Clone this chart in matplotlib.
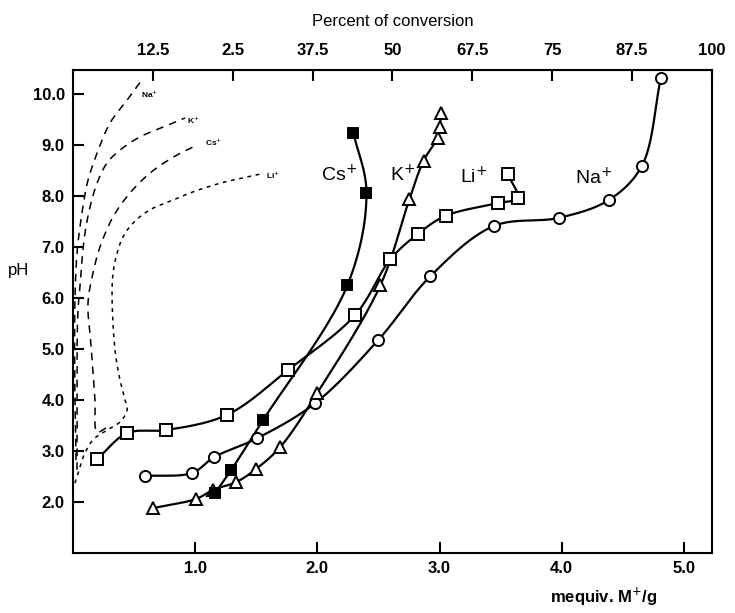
import numpy as np
import matplotlib
matplotlib.use("Agg")
import matplotlib.pyplot as plt

plt.rcParams['font.family'] = ['Liberation Sans', 'DejaVu Sans']

# ---------------- data ----------------
li_x = [0.197, 0.443, 0.762, 1.262, 1.762, 2.311, 2.598, 2.820, 3.049, 3.475, 3.639, 3.557]
li_y = [2.84, 3.35, 3.41, 3.71, 4.59, 5.67, 6.76, 7.25, 7.61, 7.86, 7.96, 8.43]

na_x = [0.59, 0.975, 1.156, 1.508, 1.984, 2.50, 2.926, 3.443, 3.975, 4.385, 4.656, 4.811]
na_y = [2.51, 2.57, 2.88, 3.25, 3.94, 5.18, 6.43, 7.41, 7.57, 7.92, 8.59, 10.31]

k_x = [0.656, 1.008, 1.148, 1.336, 1.50, 1.697, 2.00, 2.516, 2.754, 2.869, 2.984, 3.00, 3.016]
k_y = [1.88, 2.06, 2.24, 2.39, 2.65, 3.08, 4.14, 6.25, 7.94, 8.69, 9.14, 9.35, 9.63]

cs_x = [1.164, 1.295, 1.557, 2.246, 2.402, 2.295]
cs_y = [2.18, 2.63, 3.61, 6.25, 8.06, 9.24]

# dashed reference curves (no markers)
da_x = [0.025, 0.016, 0.016, 0.033, 0.057, 0.090, 0.123, 0.197, 0.303, 0.443, 0.574]
da_y = [2.82, 4.00, 5.96, 6.88, 7.39, 7.92, 8.31, 8.84, 9.43, 9.88, 10.31]

db_x = [0.033, 0.033, 0.033, 0.041, 0.057, 0.074, 0.098, 0.139, 0.197, 0.279, 0.385, 0.549, 0.738, 0.918]
db_y = [2.63, 3.60, 4.98, 5.76, 6.22, 6.75, 7.27, 7.78, 8.25, 8.65, 8.90, 9.16, 9.35, 9.53]

dc_x = [0.270, 0.197, 0.180, 0.150, 0.123, 0.164, 0.221, 0.328, 0.467, 0.631, 0.820, 1.016]
dc_y = [3.45, 3.37, 4.00, 5.00, 5.90, 6.49, 7.00, 7.59, 8.06, 8.45, 8.76, 9.00]

dd_x = [0.016, 0.057, 0.098, 0.164, 0.279, 0.385, 0.443, 0.426, 0.385, 0.344, 0.320, 0.328,
        0.361, 0.410, 0.492, 0.631, 0.820, 0.959, 1.205, 1.533]
dd_y = [2.37, 2.69, 2.96, 3.22, 3.41, 3.57, 3.80, 4.00, 4.39, 4.98, 6.02, 6.49,
        6.88, 7.20, 7.47, 7.73, 7.92, 8.06, 8.25, 8.43]

x_ticks = [1.0, 2.0, 3.0, 4.0, 5.0]
y_ticks = [2.0, 3.0, 4.0, 5.0, 6.0, 7.0, 8.0, 9.0, 10.0]
top_pct = [12.5, 25, 37.5, 50, 62.5, 75, 87.5, 100]
top_labels = ["12.5", "2.5", "37.5", "50", "67.5", "75", "87.5", "100"]

XMAX = 5.23
YMIN, YMAX = 1.0, 10.47


def smooth(xs, ys, n=25, sx=122.0, sy=51.0):
    """Centripetal Catmull-Rom through the data points (in screen-like units)."""
    P = np.column_stack([np.asarray(xs) * sx, np.asarray(ys) * sy])
    if len(P) < 3:
        return np.asarray(xs), np.asarray(ys)
    P = np.vstack([2 * P[0] - P[1], P, 2 * P[-1] - P[-2]])
    out = []
    for i in range(1, len(P) - 2):
        p0, p1, p2, p3 = P[i - 1], P[i], P[i + 1], P[i + 2]
        t0 = 0.0
        t1 = t0 + max(np.linalg.norm(p1 - p0), 1e-6) ** 0.5
        t2 = t1 + max(np.linalg.norm(p2 - p1), 1e-6) ** 0.5
        t3 = t2 + max(np.linalg.norm(p3 - p2), 1e-6) ** 0.5
        t = np.linspace(t1, t2, n)[:, None]
        A1 = (t1 - t) / (t1 - t0) * p0 + (t - t0) / (t1 - t0) * p1
        A2 = (t2 - t) / (t2 - t1) * p1 + (t - t1) / (t2 - t1) * p2
        A3 = (t3 - t) / (t3 - t2) * p2 + (t - t2) / (t3 - t2) * p3
        B1 = (t2 - t) / (t2 - t0) * A1 + (t - t0) / (t2 - t0) * A2
        B2 = (t3 - t) / (t3 - t1) * A2 + (t - t1) / (t3 - t1) * A3
        C = (t2 - t) / (t2 - t1) * B1 + (t - t1) / (t2 - t1) * B2
        out.append(C if i == 1 else C[1:])
    C = np.vstack(out)
    return C[:, 0] / sx, C[:, 1] / sy


fig = plt.figure(figsize=(7.35, 6.13), dpi=100)
ax = fig.add_axes([0.0993, 0.0979, 0.8694, 0.7879])

lw = 1.6
# dashed curves
for xs, ys, dash in [(da_x, da_y, (5, 4)), (db_x, db_y, (5, 4)),
                     (dc_x, dc_y, (5, 4)), (dd_x, dd_y, (2.5, 3))]:
    sxx, syy = smooth(xs, ys)
    ax.plot(sxx, syy, color='black', lw=1.1, dashes=dash)

# main curves
series = [
    (li_x, li_y, dict(marker='s', mfc='white', ms=8)),
    (na_x, na_y, dict(marker='o', mfc='white', ms=8)),
    (k_x, k_y, dict(marker='^', mfc='white', ms=9)),
    (cs_x, cs_y, dict(marker='s', mfc='black', ms=7)),
]
for xs, ys, mk in series:
    sxx, syy = smooth(xs, ys)
    ax.plot(sxx, syy, color='black', lw=lw, zorder=3)
    ax.plot(xs, ys, ls='none', color='black', mec='black', mew=1.4, zorder=4, **mk)

# curve labels
lab_kw = dict(fontsize=14, ha='center', va='center')
ax.text(2.18, 8.42, "Cs$^{+}$", **lab_kw)
ax.text(2.70, 8.42, "K$^{+}$", **lab_kw)
ax.text(3.28, 8.38, "Li$^{+}$", **lab_kw)
ax.text(4.26, 8.36, "Na$^{+}$", **lab_kw)

small_kw = dict(fontsize=6, ha='left', va='center', fontweight='bold')
ax.text(0.56, 10.0, "Na$^{+}$", **small_kw)
ax.text(0.93, 9.48, "K$^{+}$", **small_kw)
ax.text(1.08, 9.05, "Cs$^{+}$", **small_kw)
ax.text(1.58, 8.40, "Li$^{+}$", **small_kw)

ax.set_xlim(0, XMAX)
ax.set_ylim(YMIN, YMAX)
ax.set_xticks(x_ticks)
ax.set_xticklabels([f"{v:.1f}" for v in x_ticks])
ax.set_yticks(y_ticks)
ax.set_yticklabels([f"{v:.1f}" for v in y_ticks])
ax.tick_params(direction='in', length=8, width=1.5, labelsize=12, pad=6)
for lab in ax.get_xticklabels() + ax.get_yticklabels():
    lab.set_fontweight('bold')
for s in ax.spines.values():
    s.set_linewidth(1.5)

ax.set_ylabel("pH", rotation=0, fontsize=12, labelpad=2)
ax.yaxis.set_label_coords(-0.085, 0.57)
ax.set_xlabel("mequiv. M$^{+}$/g", fontsize=12, fontweight='bold')
ax.xaxis.set_label_coords(0.83, -0.068)

top = ax.secondary_xaxis('top', functions=(lambda x: x / XMAX * 100, lambda p: p * XMAX / 100))
top.set_xticks(top_pct)
top.set_xticklabels(top_labels)
top.tick_params(direction='in', length=8, width=1.5, labelsize=12, pad=9)
for lab in top.get_xticklabels():
    lab.set_fontweight('bold')
top.set_xlabel("Percent of conversion", fontsize=12, labelpad=12)

fig.savefig("out.png", dpi=100)
